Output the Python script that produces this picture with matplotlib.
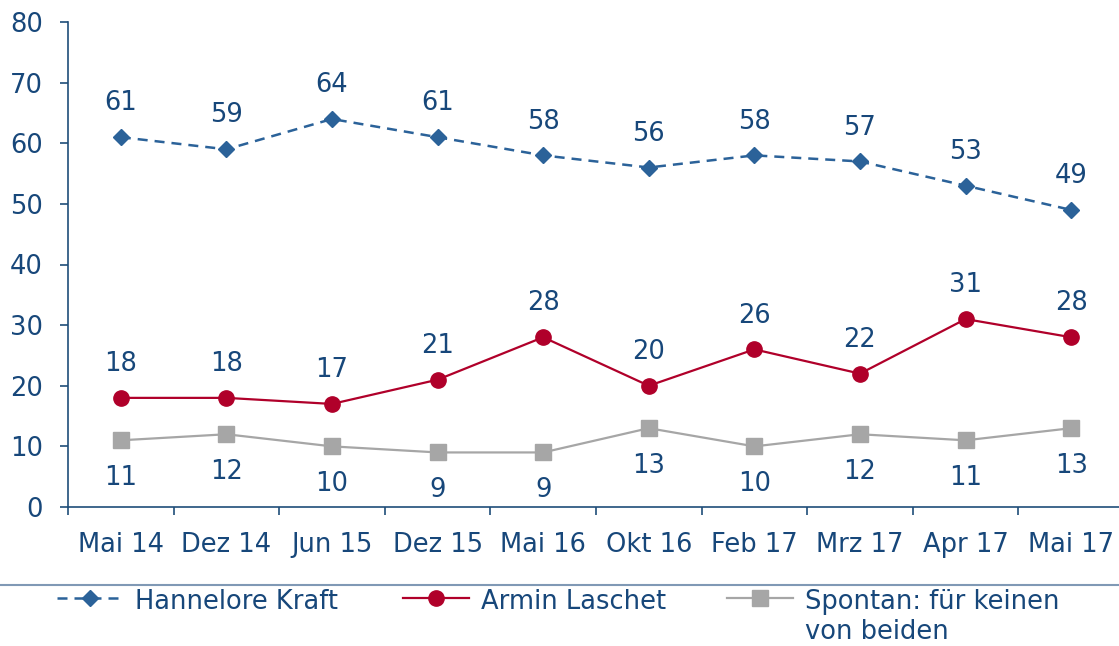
import matplotlib
matplotlib.use("Agg")
import matplotlib.pyplot as plt
from matplotlib.lines import Line2D

categories = ["Mai 14", "Dez 14", "Jun 15", "Dez 15", "Mai 16", "Okt 16", "Feb 17", "Mrz 17", "Apr 17", "Mai 17"]
kraft = [61, 59, 64, 61, 58, 56, 58, 57, 53, 49]
laschet = [18, 18, 17, 21, 28, 20, 26, 22, 31, 28]
keiner = [11, 12, 10, 9, 9, 13, 10, 12, 11, 13]
yticks = [0, 10, 20, 30, 40, 50, 60, 70, 80]

txt = "#17477a"
axc = "#1f4e79"
c_kraft = "#2b6299"
c_laschet = "#b0002a"
c_keiner = "#a6a6a6"

plt.rcParams['font.family'] = ['DejaVu Sans']
fig = plt.figure(figsize=(11.19, 6.46), dpi=100)
ax = fig.add_axes([68/1119, 1-507/646, (1124-68)/1119, (507-22)/646])

x = list(range(len(categories)))
ax.plot(x, kraft, color=c_kraft, lw=1.8, ls=(0, (4, 2.8)), marker='D', ms=8.5, zorder=3)
ax.plot(x, laschet, color=c_laschet, lw=1.6, marker='o', ms=11, zorder=3)
ax.plot(x, keiner, color=c_keiner, lw=1.6, marker='s', ms=11, zorder=3)

fs = 18.5
for i in x:
    ax.annotate(str(kraft[i]), (i, kraft[i]), xytext=(0, 15), textcoords='offset points',
                ha='center', va='bottom', fontsize=fs, color=txt)
    ax.annotate(str(laschet[i]), (i, laschet[i]), xytext=(0, 15), textcoords='offset points',
                ha='center', va='bottom', fontsize=fs, color=txt)
    ax.annotate(str(keiner[i]), (i, keiner[i]), xytext=(0, -18), textcoords='offset points',
                ha='center', va='top', fontsize=fs, color=txt)

ax.set_xlim(-0.5, len(categories) - 0.5)
ax.set_ylim(0, 80)
ax.set_yticks(yticks)
ax.set_yticklabels([str(v) for v in yticks], fontsize=fs, color=txt)
ax.set_xticks(x)
ax.set_xticklabels(categories, fontsize=fs, color=txt)
ax.set_xticks([i + 0.5 for i in x[:-1]] + [-0.5], minor=True)
ax.tick_params(axis='x', which='major', length=0, pad=18)
ax.tick_params(axis='x', which='minor', length=6, width=1.2, color=axc, direction='out')
ax.tick_params(axis='y', which='major', length=6, width=1.2, color=axc, direction='out', pad=12)
for s in ['top', 'right']:
    ax.spines[s].set_visible(False)
for s in ['left', 'bottom']:
    ax.spines[s].set_color(axc)
    ax.spines[s].set_linewidth(1.2)

# separator line above legend
fig.add_artist(Line2D([0, 1], [1-585/646, 1-585/646], transform=fig.transFigure,
                      color="#8099b5", lw=1.5))

h1 = Line2D([], [], color=c_kraft, lw=1.8, ls=(0, (4, 2.8)), marker='D', ms=8.5)
h2 = Line2D([], [], color=c_laschet, lw=1.6, marker='o', ms=11)
h3 = Line2D([], [], color=c_keiner, lw=1.6, marker='s', ms=11)
common = dict(frameon=False, fontsize=fs, handlelength=2.55, handletextpad=0.5,
              borderaxespad=0, borderpad=0, labelcolor=txt, loc='upper left')
ytop = 1 - 589/646
l1 = fig.legend([h1], ["Hannelore Kraft"], bbox_to_anchor=(57/1119, ytop), **common)
l2 = fig.legend([h2], ["Armin Laschet"], bbox_to_anchor=(403/1119, ytop), **common)
l3 = fig.legend([h3], ["Spontan: für keinen\nvon beiden"], bbox_to_anchor=(727/1119, ytop), **common)
for lg in (l1, l2, l3):
    for col in lg._legend_handle_box.get_children():
        for hp in col.get_children():
            hp.align = 'top'

fig.savefig("out.png", dpi=100)
